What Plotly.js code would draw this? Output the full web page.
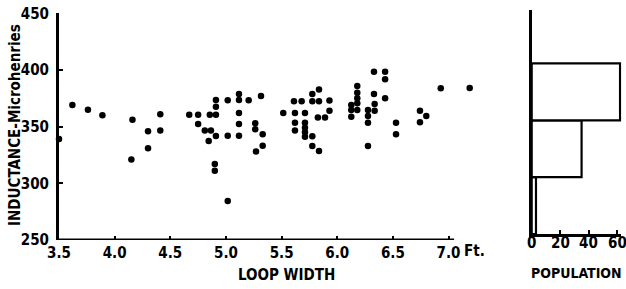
<!DOCTYPE html>
<html><head><meta charset="utf-8">
<script src="https://cdn.plot.ly/plotly-3.0.1.min.js"></script>
<style>html,body{margin:0;padding:0;background:#fff}#chart{width:626px;height:289px}</style>
</head><body><div id="chart"></div>
<script>
// Scatter data: loop width (ft) vs inductance (microhenries)
const loopWidth = [3.50,3.62,3.76,3.89,4.16,4.15,4.30,4.30,4.41,4.41,
  4.67,4.75,4.75,4.81,4.865,4.845,4.855,4.91,4.91,4.91,4.91,4.90,4.90,
  5.016,5.016,5.016,5.117,5.117,5.117,5.117,5.117,5.204,5.315,5.263,5.263,5.33,5.33,5.27,
  5.515,5.611,5.68,5.62,5.62,5.62,5.71,5.71,5.71,5.71,5.71,5.776,5.776,5.836,5.836,5.776,5.776,5.836,5.826,5.89,5.93,5.93,
  6.126,6.126,6.126,6.18,6.18,6.18,6.18,6.18,6.276,6.276,6.276,6.276,6.33,6.33,6.336,6.336,6.43,6.43,6.43,
  6.528,6.528,6.743,6.743,6.80,6.93,7.19];
const inductance = [339,369,365,360,356,321,346,331,361,346.5,
  360.5,360.5,352.4,346.5,346.5,337.4,360.5,360.5,367.6,373.6,341.8,317,311,
  373.3,342,284.4,378.9,373.6,362,352.4,342,373.3,377,353,347.7,343.3,333.2,328,
  362,372.4,372.4,362,353.5,346.5,362,353.5,349,345,341,378.9,372.4,382.7,372.4,341.5,333,328.6,358,358,373,364,
  369,364.7,358.8,385.9,380,375,370.6,364.7,364.7,359.4,353.5,333,398.5,378.9,370,364,398.5,391.8,375,
  353.5,343.3,364,353.9,359.4,383.8,384];

// Histogram: population per inductance bin
const binCenters = [275, 325, 375];
const population = [3, 35, 62];

const xTicks = [3.5,4.0,4.5,5.0,5.5,6.0,6.5,7.0];
const xTickText = ["3.5","4.0","4.5","5.0","5.5","6.0","6.5","7.0"];
const yTicks = [250,300,350,400,450];
const popTicks = [0,20,40,60];
const popTickText = ["0","20","40","60"];

const FONT = "Liberation Sans Narrow, DejaVu Sans Condensed, Arial Narrow, sans-serif";
const W = 626, H = 289;
const PXU = 111.3; // px per ft

const traces = [
  {type:'scatter', mode:'markers', x:loopWidth, y:inductance, xaxis:'x', yaxis:'y',
   marker:{color:'#000', size:6.5}, cliponaxis:false, hoverinfo:'x+y'},
  {type:'bar', orientation:'h', x:population, y:binCenters, width:50, xaxis:'x2', yaxis:'y2',
   marker:{color:'#fff', line:{color:'#000', width:2.2}}}
];

const tickFont = {family:FONT, size:15, color:'#000', weight:'bold'};
const popFont = {family:FONT, size:15, color:'#000', weight:'bold'};

const annotations = [
  {text:'INDUCTANCE-Microhenries', xref:'paper', yref:'paper', x:15/W, y:(H-125)/H,
   textangle:-90, showarrow:false, xanchor:'center', yanchor:'middle',
   font:{family:FONT, size:15, color:'#000', weight:'bold'}},
  {text:'LOOP WIDTH', xref:'paper', yref:'paper', x:286/W, y:(H-275)/H,
   showarrow:false, xanchor:'center', yanchor:'middle',
   font:{family:FONT, size:15, color:'#000', weight:'bold'}},
  {text:'Ft.', xref:'paper', yref:'paper', x:462/W, y:(H-251)/H,
   showarrow:false, xanchor:'left', yanchor:'middle',
   font:{family:FONT, size:15, color:'#000', weight:'bold'}},
  {text:'POPULATION', xref:'paper', yref:'paper', x:576/W, y:(H-273)/H,
   showarrow:false, xanchor:'center', yanchor:'middle',
   font:{family:FONT, size:14, color:'#000', weight:'bold'}}
];
popTicks.forEach((v, i) => annotations.push({
  text: popTickText[i], xref:'x2', yref:'paper', x:v, y:(H-243)/H,
  showarrow:false, xanchor:'center', yanchor:'middle', font:popFont
}));

const layout = {
  width:W, height:H, margin:{l:0,r:0,t:0,b:0},
  paper_bgcolor:'#fff', plot_bgcolor:'rgba(0,0,0,0)',
  showlegend:false,
  xaxis:{domain:[59/W, (59+3.75*PXU)/W], range:[3.5,7.25], tickvals:xTicks, ticktext:xTickText,
    ticks:'inside', ticklen:4, tickwidth:2, tickcolor:'#000', ticklabelstandoff:2,
    showline:false, showgrid:false, zeroline:false, ticklabeloverflow:'allow',
    tickfont:tickFont, anchor:'y', fixedrange:true},
  yaxis:{domain:[(H-240)/H, (H-13.3)/H], range:[250,450], tickvals:yTicks,
    ticks:'inside', ticklen:4, tickwidth:2, tickcolor:'#000', ticklabelstandoff:4,
    showline:true, linewidth:3, linecolor:'#000', showgrid:false, zeroline:false,
    tickfont:tickFont, anchor:'x', fixedrange:true},
  xaxis2:{domain:[531.7/W, (531.7+63*1.425)/W], range:[0,63], tickvals:popTicks,
    ticks:'inside', ticklen:4, tickwidth:2, tickcolor:'#000', showticklabels:false,
    showline:true, linewidth:3, linecolor:'#000', showgrid:false, zeroline:false,
    anchor:'y2', fixedrange:true},
  yaxis2:{domain:[(H-234)/H, (H-10)/H], range:[250,447], showticklabels:false, ticks:'',
    showline:true, linewidth:3, linecolor:'#000', showgrid:false, zeroline:false,
    anchor:'x2', fixedrange:true},
  shapes:[
    {type:'line', xref:'x', yref:'y', x0:3.5, x1:7.05, y0:250, y1:250, layer:'above',
     line:{color:'#000', width:3}}
  ],
  annotations: annotations
};

Plotly.newPlot('chart', traces, layout, {displayModeBar:false, staticPlot:true});
</script></body></html>
